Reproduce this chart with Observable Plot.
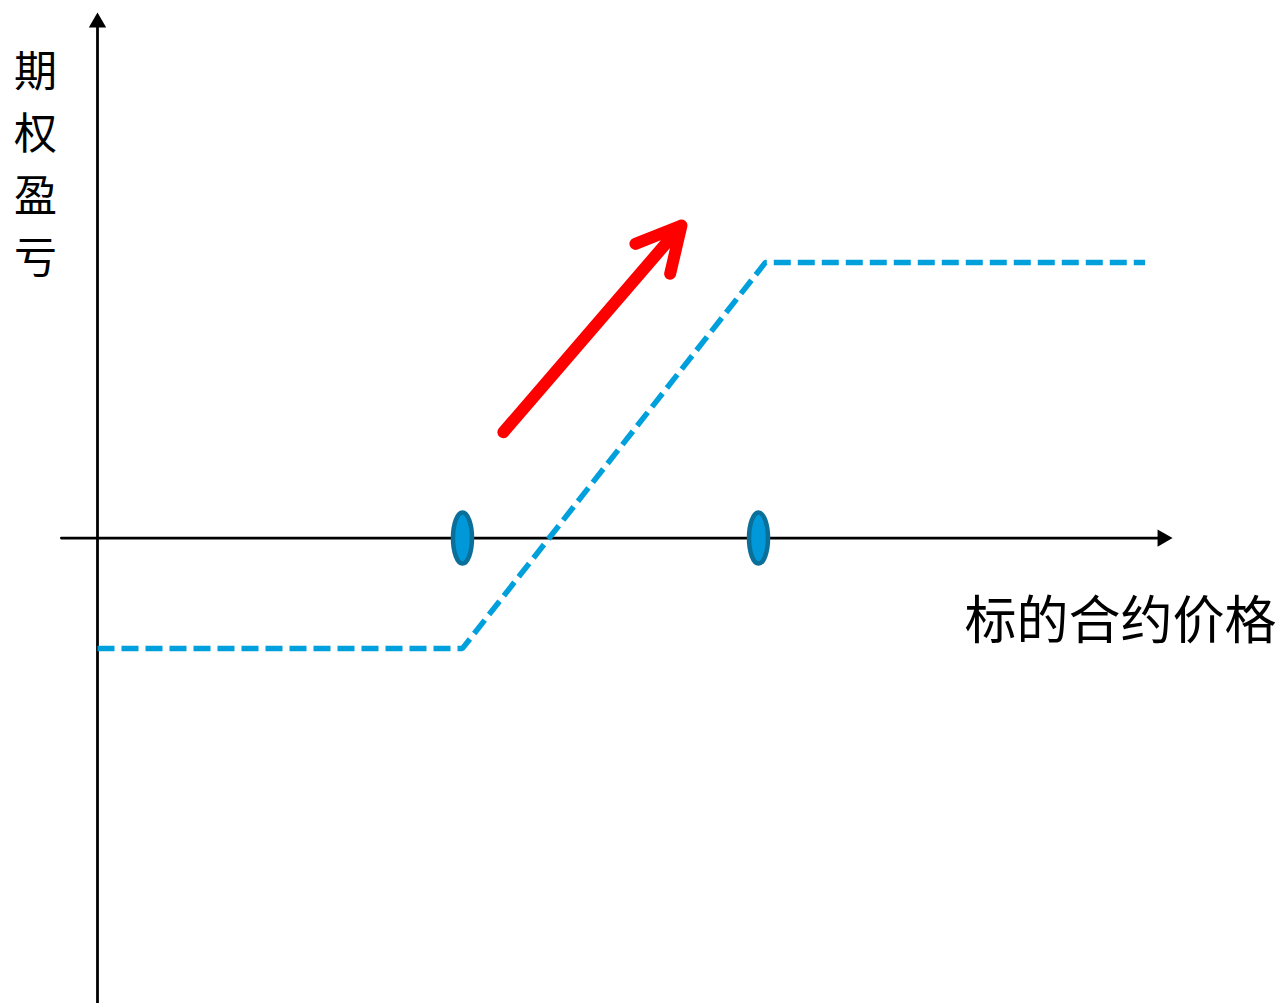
<!DOCTYPE html>
<html>
<head>
<meta charset="utf-8">
<script src="https://cdn.jsdelivr.net/npm/d3@7"></script>
<script src="https://cdn.jsdelivr.net/npm/@observablehq/plot@0.6"></script>
<style>
  html, body { margin: 0; padding: 0; background: #fff; }
  svg { display: block; }
</style>
</head>
<body>
<div id="chart"></div>
<script>
// Payoff of a bull spread (arbitrary units)
const payoffX = [0, 10, 18.3, 28.7];
const payoffY = [-2, -2, 5, 5];
// Strike prices marked on the x axis
const strikes = [10, 18.11];
// Red trend arrow
const trendFrom = [11.12, 1.92];
const trendTo = [16.0, 5.67];
// Axis extents
const xAxisExtent = [-0.99, 29.18];
const yAxisExtent = [-8.44, 9.35];
// Labels
const yLabelChars = ["期", "权", "盈", "亏"];
const xLabelText = "标的合约价格";
const yLabelPos = [-1.7, 6.86];
const xLabelPos = [32.3, -1.53];

const payoff = payoffX.map((x, i) => ({x, y: payoffY[i]}));
const strikeDots = strikes.map(x => ({x, y: 0}));

const k = 0.5523;
const ellipseSymbol = {
  draw(ctx) {
    const rx = 9.5, ry = 25.5, kx = rx * k, ky = ry * k;
    ctx.moveTo(rx, 0);
    ctx.bezierCurveTo(rx, ky, kx, ry, 0, ry);
    ctx.bezierCurveTo(-kx, ry, -rx, ky, -rx, 0);
    ctx.bezierCurveTo(-rx, -ky, -kx, -ry, 0, -ry);
    ctx.bezierCurveTo(kx, -ry, rx, -ky, rx, 0);
    ctx.closePath();
  }
};

const font = "'Noto Sans CJK SC', 'Noto Sans', sans-serif";

const chart = Plot.plot({
  width: 1282,
  height: 1003,
  margin: 0,
  x: {domain: [-2.6575, 32.466], axis: null},
  y: {domain: [-8.44, 9.75], axis: null},
  marks: [
    // x axis
    Plot.line([{x: xAxisExtent[0], y: 0}, {x: xAxisExtent[1], y: 0}], {x: "x", y: "y", stroke: "#000", strokeWidth: 2.8}),
    Plot.dot([{x: xAxisExtent[1], y: 0}], {x: "x", y: "y", symbol: "triangle2", r: 8.3, rotate: 90, fill: "#000", stroke: "none"}),
    // y axis
    Plot.line([{x: 0, y: yAxisExtent[0]}, {x: 0, y: yAxisExtent[1]}], {x: "x", y: "y", stroke: "#000", strokeWidth: 2.8}),
    Plot.dot([{x: 0, y: yAxisExtent[1]}], {x: "x", y: "y", symbol: "triangle2", r: 8.3, fill: "#000", stroke: "none"}),
    // payoff dashed line
    Plot.line(payoff, {x: "x", y: "y", stroke: "#00a0dc", strokeWidth: 5.5, strokeDasharray: "17,7", strokeLinecap: "butt", strokeLinejoin: "miter"}),
    // strike markers
    Plot.dot(strikeDots, {x: "x", y: "y", symbol: ellipseSymbol, fill: "#0098d8", stroke: "#0a6f99", strokeWidth: 4.5}),
    // red arrow
    Plot.arrow([{x1: trendFrom[0], y1: trendFrom[1], x2: trendTo[0], y2: trendTo[1]}], {
      x1: "x1", y1: "y1", x2: "x2", y2: "y2", stroke: "#ff0000", strokeWidth: 12, headLength: 6.2, headAngle: 55
    }),
    // labels
    Plot.text([yLabelChars.join("\n")], {x: () => yLabelPos[0], y: () => yLabelPos[1], text: d => d, fontSize: 43, lineHeight: 1.44, fill: "#000", fontFamily: font}),
    Plot.text([xLabelText], {x: () => xLabelPos[0], y: () => xLabelPos[1], text: d => d, fontSize: 52, textAnchor: "end", fill: "#000", fontFamily: font})
  ]
});
document.getElementById("chart").appendChild(chart);
</script>
</body>
</html>
